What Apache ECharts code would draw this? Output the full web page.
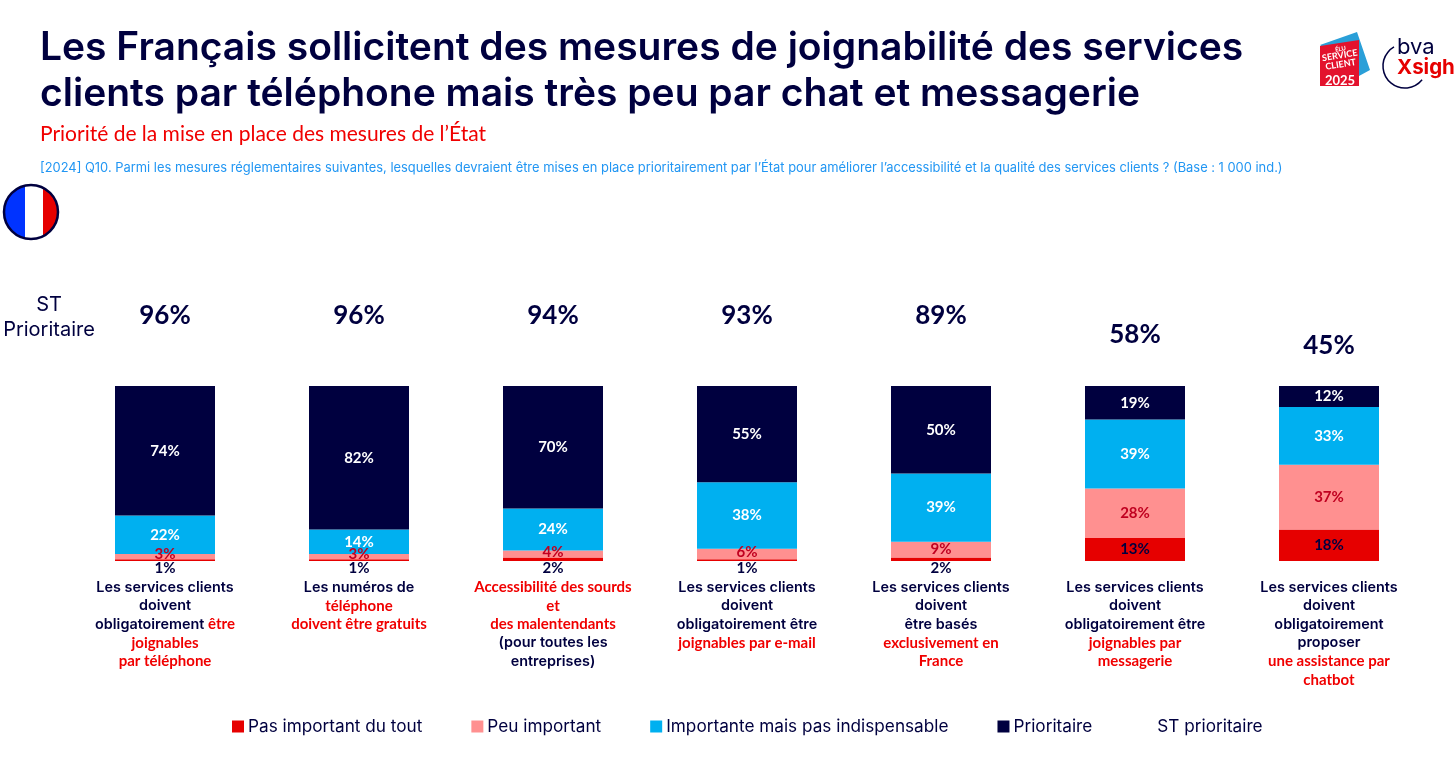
<!DOCTYPE html>
<html><head><meta charset="utf-8">
<style>html,body{margin:0;padding:0;background:#fff}#c{width:1454px;height:769px}</style>
<script src="https://cdn.jsdelivr.net/npm/echarts@6/dist/echarts.min.js"></script>
</head><body><div id="c"></div>
<script>
const categories = [
 '{n|Les services clients}\n{n|doivent}\n{n|obligatoirement }{r|être}\n{r|joignables}\n{r|par téléphone}',
 '{n|Les numéros de}\n{r|téléphone}\n{r|doivent être gratuits}',
 '{r|Accessibilité des sourds}\n{r|et}\n{r|des malentendants}\n{n|(pour toutes les}\n{n|entreprises)}',
 '{n|Les services clients}\n{n|doivent}\n{n|obligatoirement être}\n{r|joignables par e-mail}',
 '{n|Les services clients}\n{n|doivent}\n{n|être basés}\n{r|exclusivement en}\n{r|France}',
 '{n|Les services clients}\n{n|doivent}\n{n|obligatoirement être}\n{r|joignables par}\n{r|messagerie}',
 '{n|Les services clients}\n{n|doivent}\n{n|obligatoirement}\n{n|proposer}\n{r|une assistance par}\n{r|chatbot}'
];
const pasImportant = [1, 1, 2, 1, 2, 13.2, 18];
const peuImportant = [3, 3, 4, 6, 9, 28.3, 37];
const importante   = [22, 14, 24, 38, 39, 39.3, 33];
const prioritaire  = [74, 82, 70, 55, 50, 19.2, 12];
const stPrioritaire = [96, 96, 94, 93, 89, 58, 45];
const stCap = 80;

const NAVY='#00003f', RED='#e60000', PINK='#ff9090', BLUE='#00b0f0', HAND='#f00000';
const handFont='Lato', bodyFont='Inter';
const pct = p => Math.round(p.value) + '%';
function bar(name, data, color, labelColor, small){
  return {name, type:'bar', stack:'t', xAxisIndex:0, yAxisIndex:0, barWidth:100,
    itemStyle:{color},
    label:{show:true, position:'inside', color:labelColor, fontFamily:handFont, fontWeight:'bold', fontSize:15, formatter:pct},
    data:data.map(v=>small?small(v):v)};
}
const chart = echarts.init(document.getElementById('c'), null, {renderer:'canvas'});
chart.setOption({
  animation:false,
  textStyle:{fontFamily:bodyFont},
  title:[
    {text:'Les Français sollicitent des mesures de joignabilité des services\nclients par téléphone mais très peu par chat et messagerie',
     left:35, top:20, textStyle:{fontFamily:'Inter', fontWeight:600, fontSize:39, lineHeight:46, color:NAVY}},
    {text:'Priorité de la mise en place des mesures de l’État', left:35, top:119,
     textStyle:{fontFamily:handFont, fontWeight:'normal', fontSize:21, color:HAND}},
    {text:'[2024] Q10. Parmi les mesures réglementaires suivantes, lesquelles devraient être mises en place prioritairement par l’État pour améliorer l’accessibilité et la qualité des services clients ? (Base : 1 000 ind.)',
     left:35, top:157, textStyle:{fontFamily:'Inter', fontWeight:'normal', fontSize:12.9, color:'#2196f3'}},
    {text:'ST\nPrioritaire', left:44, top:287, textAlign:'center',
     textStyle:{fontFamily:'Inter', fontWeight:'normal', fontSize:20, lineHeight:25, color:NAVY}}
  ],
  legend:{
    left:227, top:713, itemWidth:12, itemHeight:12, itemGap:49, icon:'rect',
    textStyle:{fontFamily:'Inter', fontSize:17.2, color:NAVY, padding:[0,0,0,-1]},
    data:['Pas important du tout','Peu important','Importante mais pas indispensable','Prioritaire',
      {name:'ST prioritaire', itemStyle:{opacity:0}}]
  },
  grid:[
    {left:68, width:1358, top:386, height:175},
    {left:68, width:1358, top:299, height:85}
  ],
  xAxis:[
    {type:'category', gridIndex:0, data:categories, axisLine:{show:false}, axisTick:{show:false},
     axisLabel:{interval:0, margin:17, lineHeight:18.5,
       rich:{n:{fontFamily:bodyFont, fontWeight:600, fontSize:14.4, color:NAVY, lineHeight:18.5},
             r:{fontFamily:handFont, fontWeight:'bold', fontSize:15, color:HAND, lineHeight:18.5}}}},
    {type:'category', gridIndex:1, data:categories, show:false}
  ],
  yAxis:[
    {type:'value', gridIndex:0, min:0, max:100, show:false},
    {type:'value', gridIndex:1, min:0, max:100, show:false}
  ],
  series:[
    bar('Pas important du tout', pasImportant, RED, NAVY,
      v=>v<3?{value:v,label:{position:'bottom',distance:0}}:v),
    bar('Peu important', peuImportant, PINK, '#c00020', v=>v<7?{value:v,label:{offset:[0,-2]}}:v),
    bar('Importante mais pas indispensable', importante, BLUE, '#fff'),
    bar('Prioritaire', prioritaire, NAVY, '#fff'),
    {name:'ST prioritaire', type:'scatter', xAxisIndex:1, yAxisIndex:1, symbolSize:1,
     itemStyle:{color:'#fff', opacity:1},
     label:{show:true, position:'inside', color:NAVY, fontFamily:handFont, fontWeight:'bold', fontSize:26,
       formatter:p=>stPrioritaire[p.dataIndex]+'%'},
     data:stPrioritaire.map(v=>Math.min(v,stCap))}
  ],
  graphic:[
    {type:'circle', shape:{cx:31,cy:212,r:27}, z:5,
     style:{lineWidth:2.5, stroke:NAVY,
       fill:new echarts.graphic.LinearGradient(0,0,1,0,[
         {offset:0,color:'#0033ff'},{offset:.39,color:'#0033ff'},{offset:.39,color:'#fff'},
         {offset:.71,color:'#fff'},{offset:.71,color:'#e60000'},{offset:1,color:'#e60000'}])}},
    {type:'polygon', shape:{points:[[1320,45],[1357,32],[1370,70],[1359,76],[1340,60]]}, style:{fill:'#2a9fd8'}},
    {type:'polygon', shape:{points:[[1320,46],[1359,40],[1359,86],[1320,86]]}, style:{fill:'#e3122d'}},
    {type:'text', x:1340, y:46, rotation:0.16, style:{text:'ÉLU', fill:'#fff', font:'bold 6px Lato', align:'center'}},
    {type:'text', x:1339, y:51, rotation:0.16, style:{text:'SERVICE', fill:'#fff', font:'bold 9px Lato', align:'center'}},
    {type:'text', x:1340, y:60, rotation:0.16, style:{text:'CLIENT', fill:'#fff', font:'bold 9px Lato', align:'center'}},
    {type:'text', x:1340, y:74, style:{text:'2025', fill:'#fff', font:'bold 13px Lato', align:'center'}},
    {type:'arc', shape:{cx:1405,cy:66,r:22,startAngle:39*Math.PI/180,endAngle:240*Math.PI/180,clockwise:true},
     style:{stroke:NAVY, lineWidth:1.5, fill:null}},
    {type:'text', x:1397, y:36, style:{text:'bva', fill:NAVY, font:'22px Inter'}},
    {type:'text', x:1397, y:57, style:{text:'Xsigh', fill:'#e60000', font:'bold 20.5px Inter'}}
  ]
});
</script></body></html>
